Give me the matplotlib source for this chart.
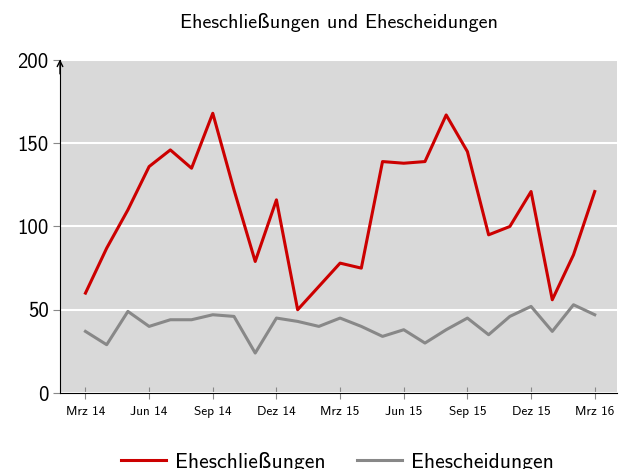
import matplotlib.pyplot as plt

plt.rcParams['font.family'] = ['cmss10', 'DejaVu Sans']
plt.rcParams['axes.unicode_minus'] = False

months = ['Mrz 14', 'Apr 14', 'Mai 14', 'Jun 14', 'Jul 14', 'Aug 14', 'Sep 14', 'Okt 14',
          'Nov 14', 'Dez 14', 'Jan 15', 'Feb 15', 'Mrz 15', 'Apr 15', 'Mai 15', 'Jun 15',
          'Jul 15', 'Aug 15', 'Sep 15', 'Okt 15', 'Nov 15', 'Dez 15', 'Jan 16', 'Feb 16', 'Mrz 16']
eheschliessungen = [60, 87, 110, 136, 146, 135, 168, 122, 79, 116, 50, 64, 78, 75,
                    139, 138, 139, 167, 145, 95, 100, 121, 56, 83, 121]
ehescheidungen = [37, 29, 49, 40, 44, 44, 47, 46, 24, 45, 43, 40, 45, 40,
                  34, 38, 30, 38, 45, 35, 46, 52, 37, 53, 47]

fig = plt.figure(figsize=(6.19, 4.69), dpi=100)
ax = fig.add_axes([60 / 619, 1 - 393 / 469, 557 / 619, 333 / 469])
ax.set_facecolor('#d9d9d9')

x = list(range(len(months)))
ax.plot(x, eheschliessungen, color='#cc0000', lw=2.2, label='Eheschließungen')
ax.plot(x, ehescheidungen, color='#888888', lw=2.2, label='Ehescheidungen')

ax.set_xlim(-1.2, 25.05)
ax.set_ylim(0, 200)
ax.set_yticks([0, 50, 100, 150, 200])
ax.yaxis.grid(True, color='white', lw=1.5)
ax.set_axisbelow(True)

ticks = x[::3]
ax.set_xticks(ticks)
ax.set_xticklabels([months[i] for i in ticks], fontsize=9.5)
ax.tick_params(axis='x', direction='inout', length=9, color='#888888', pad=5)
ax.tick_params(axis='y', direction='out', length=5, color='#888888', labelsize=15, pad=3)

for s in ['top', 'right']:
    ax.spines[s].set_visible(False)
ax.spines['left'].set_color('black')
ax.spines['bottom'].set_color('black')
ax.annotate('', xy=(-1.2, 202), xytext=(-1.2, 190), xycoords='data',
            arrowprops=dict(arrowstyle='->', color='black', lw=1), annotation_clip=False)

fig.text(0.548, 1 - 22 / 469, 'Eheschließungen und Ehescheidungen', ha='center', va='center', fontsize=14.5)

fig.legend(loc='center', bbox_to_anchor=(0.545, 1 - 462 / 469), ncol=2, frameon=False,
           fontsize=15.5, handlelength=2.1, handletextpad=0.4, columnspacing=1.45)

fig.savefig('out.png', dpi=100)
